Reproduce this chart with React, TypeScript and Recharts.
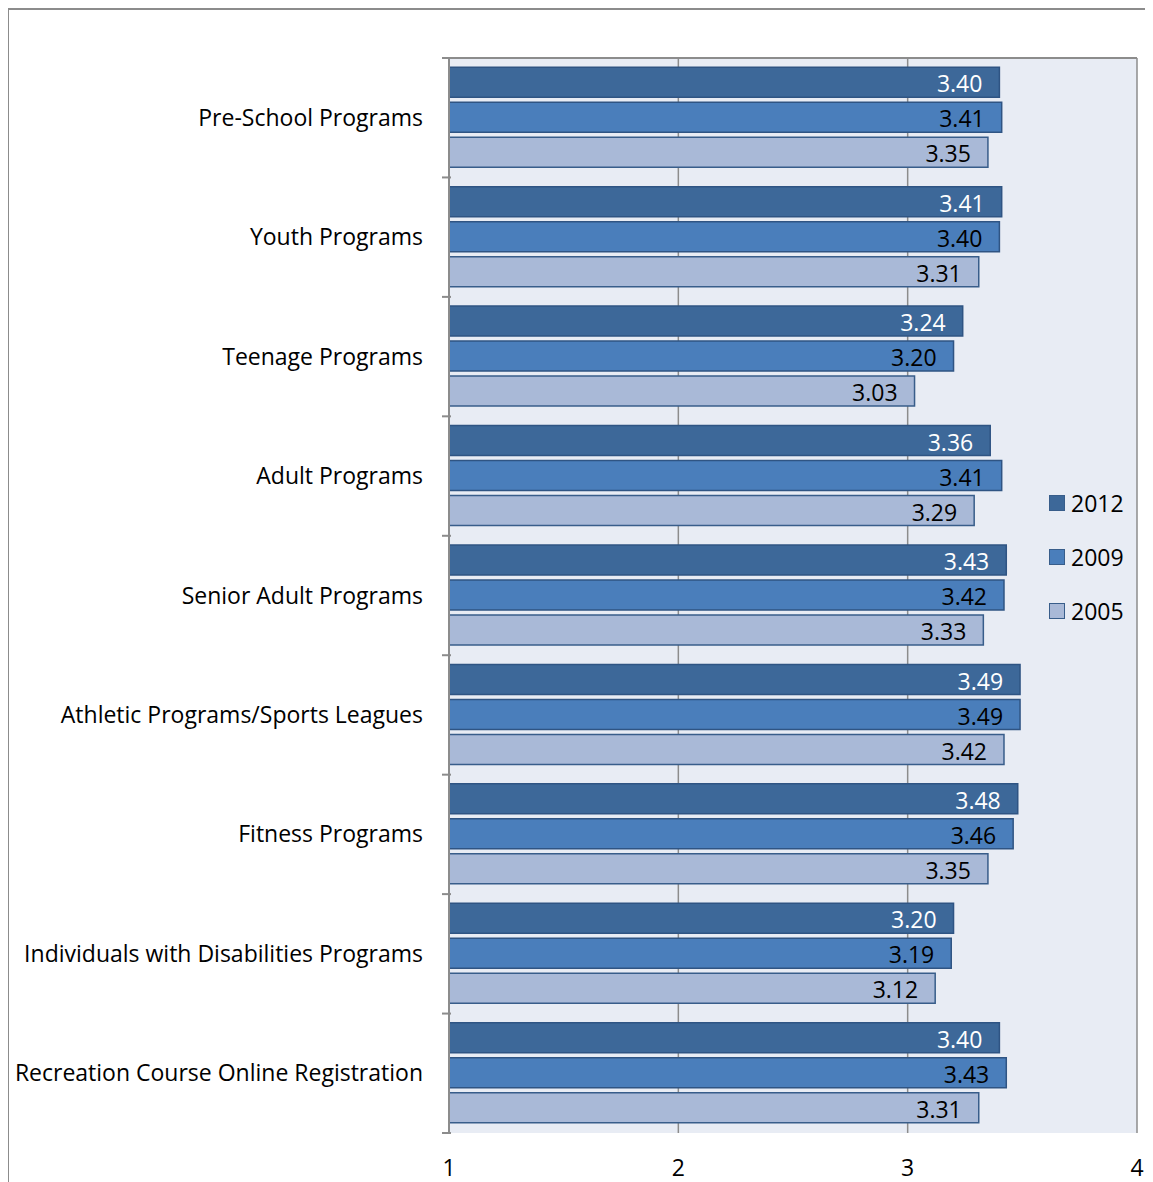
import React from 'react';
import {
  BarChart,
  Bar,
  XAxis,
  YAxis,
  CartesianGrid,
  Legend,
  LabelList,
} from 'recharts';

const categories = [
  'Pre-School Programs',
  'Youth Programs',
  'Teenage Programs',
  'Adult Programs',
  'Senior Adult Programs',
  'Athletic Programs/Sports Leagues',
  'Fitness Programs',
  'Individuals with Disabilities Programs',
  'Recreation Course Online Registration',
];

const values2012 = [3.4, 3.41, 3.24, 3.36, 3.43, 3.49, 3.48, 3.2, 3.4];
const values2009 = [3.41, 3.4, 3.2, 3.41, 3.42, 3.49, 3.46, 3.19, 3.43];
const values2005 = [3.35, 3.31, 3.03, 3.29, 3.33, 3.42, 3.35, 3.12, 3.31];

const seriesNames = ['2012', '2009', '2005'];
const seriesColors = ['#3d6899', '#4a7ebb', '#a9b9d7'];

const xTicks = [1, 2, 3, 4];

const data = categories.map((name, i) => ({
  name,
  y2012: values2012[i],
  y2009: values2009[i],
  y2005: values2005[i],
}));

const FONT = '"Open Sans", "Noto Sans", sans-serif';
const FS = 23;
const CHART_W = 1143;
const CHART_H = 1172;
const MARGIN = { top: 47, right: 15, bottom: 4, left: 0 };
const Y_AXIS_W = 440;
const X_AXIS_H = 45;
const PLOT_H = CHART_H - MARGIN.top - 1 - MARGIN.bottom - X_AXIS_H;
const BAND = PLOT_H / categories.length;
const AXIS_GRAY = '#8c8c8c';

const CategoryTick = (props: any) => {
  const { x, y, payload, index } = props;
  const top = y - BAND / 2;
  const bottom = y + BAND / 2;
  return (
    <g>
      <line x1={x + 1} x2={x + 10} y1={top} y2={top} stroke={AXIS_GRAY} strokeWidth={2} />
      {index === categories.length - 1 && (
        <line x1={x + 1} x2={x + 10} y1={bottom} y2={bottom} stroke={AXIS_GRAY} strokeWidth={2} />
      )}
      <text
        x={x - 18}
        y={y}
        dy={8}
        textAnchor="end"
        fontFamily={FONT}
        fontSize={FS}
        fill="#000"
      >
        {payload.value}
      </text>
    </g>
  );
};

const fmt = (v: any) => Number(v).toFixed(2);

const LegendBox = () => (
  <div style={{ fontFamily: FONT, fontSize: FS, lineHeight: '54px' }}>
    {seriesNames.map((label, i) => (
      <div key={label} style={{ display: 'flex', alignItems: 'center' }}>
        <span
          style={{
            display: 'inline-block',
            width: 14,
            height: 14,
            background: seriesColors[i],
            border: '1.5px solid #385d8a',
            marginRight: 6,
          }}
        />
        <span>{label}</span>
      </div>
    ))}
  </div>
);

export default function App() {
  return (
    <div
      style={{
        width: CHART_W,
        height: CHART_H,
        marginLeft: -1,
        borderLeft: `2px solid ${AXIS_GRAY}`,
        borderTop: `2px solid ${AXIS_GRAY}`,
        background: '#fff',
        overflow: 'hidden',
      }}
    >
      <BarChart
        width={CHART_W}
        height={CHART_H}
        data={data}
        layout="vertical"
        margin={MARGIN}
        barCategoryGap="7.7%"
        barGap={5}
      >
        <CartesianGrid
          horizontal={false}
          vertical={true}
          stroke={AXIS_GRAY}
          strokeWidth={1.5}
          fill="#e8ecf4"
          fillOpacity={1}
        />
        <XAxis
          type="number"
          domain={[1, 4]}
          ticks={xTicks}
          height={X_AXIS_H}
          axisLine={false}
          tickLine={false}
          orientation="bottom"
          tick={{ fontFamily: FONT, fontSize: FS, fill: '#000', dy: 19 }}
          interval={0}
        />
        <XAxis
          xAxisId="top"
          type="number"
          domain={[1, 4]}
          orientation="top"
          height={1}
          tick={false}
          tickLine={false}
          axisLine={{ stroke: AXIS_GRAY, strokeWidth: 2 }}
        />
        <YAxis
          type="category"
          dataKey="name"
          width={Y_AXIS_W}
          axisLine={{ stroke: AXIS_GRAY, strokeWidth: 2 }}
          tickLine={false}
          tick={<CategoryTick />}
          interval={0}
        />
        <Legend
          layout="horizontal"
          verticalAlign="middle"
          align="center"
          wrapperStyle={{ left: 1040, top: 466, width: 100 }}
          content={() => <LegendBox />}
        />
        <Bar dataKey="y2012" name="2012" fill={seriesColors[0]} stroke="#2f5483" strokeWidth={1.5} isAnimationActive={false}>
          <LabelList
            dataKey="y2012"
            position="insideRight"
            offset={17}
            dy={2}
            formatter={fmt}
            style={{ fontFamily: FONT, fontSize: FS, fill: '#fff' }}
          />
        </Bar>
        <Bar dataKey="y2009" name="2009" fill={seriesColors[1]} stroke="#2f5483" strokeWidth={1.5} isAnimationActive={false}>
          <LabelList
            dataKey="y2009"
            position="insideRight"
            offset={17}
            dy={2}
            formatter={fmt}
            style={{ fontFamily: FONT, fontSize: FS, fill: '#000' }}
          />
        </Bar>
        <Bar dataKey="y2005" name="2005" fill={seriesColors[2]} stroke="#385d8a" strokeWidth={1.5} isAnimationActive={false}>
          <LabelList
            dataKey="y2005"
            position="insideRight"
            offset={17}
            dy={2}
            formatter={fmt}
            style={{ fontFamily: FONT, fontSize: FS, fill: '#000' }}
          />
        </Bar>
      </BarChart>
    </div>
  );
}
